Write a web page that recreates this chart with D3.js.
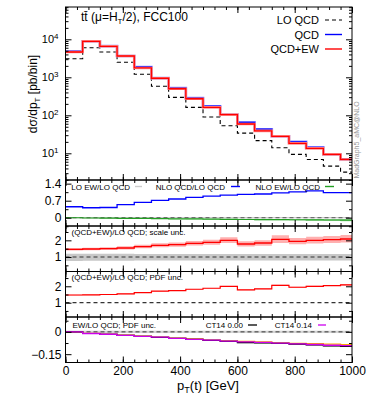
<!DOCTYPE html>
<html><head><meta charset="utf-8">
<script src="https://cdn.jsdelivr.net/npm/d3@7"></script>
<style>body{margin:0;background:#fff} text{font-family:"Liberation Sans",Arial,sans-serif}</style>
</head><body><svg id="c" width="374" height="408"></svg>
<script>
// ---- data ----
const binEdges = [0,60,120,180,240,300,360,420,480,540,600,660,720,780,840,900,960,1000];
const loQCD  = [3090,6000,4640,2480,1200,580,297,162,90,53,34,21.5,14,9.4,6.9,4.6,3.2];
const qcd    = [4800,8850,6600,3650,1870,950,524,285,173,104,65,43,28,20,14.4,9.4,6.9];
const qcdEW  = [4630,8850,6550,3640,1760,943,500,273,162,104,59,39,28,18.3,13.5,9.4,6.9];
const nloQCDratio = [0.45,0.41,0.42,0.535,0.63,0.715,0.77,0.84,0.89,0.93,0.96,0.975,1.02,1.06,1.10,1.03,1.03];
const loEWratio   = [0.005,0.006,0.005,0.006,0.005,0.006,0.005,0.005,0.006,0.005,0.005,0.006,0.005,0.005,0.006,0.005,0.005];
const nloEWratio  = [0,-0.011,-0.017,-0.023,-0.030,-0.037,-0.044,-0.051,-0.057,-0.064,-0.072,-0.074,-0.078,-0.083,-0.088,-0.094,-0.097];
const nloEWbandHalf = [0.004,0.006,0.008,0.01,0.012,0.014,0.016,0.018,0.02,0.022,0.025,0.028,0.03,0.033,0.036,0.04,0.044];
const fullRatio = [1.46,1.48,1.50,1.54,1.62,1.70,1.74,1.82,1.88,2.00,1.78,1.84,2.06,1.94,2.00,2.04,2.08];
const scaleUp   = [1.54,1.56,1.59,1.64,1.73,1.82,1.87,1.96,2.03,2.18,1.95,2.01,2.30,2.14,2.21,2.26,2.32];
const scaleDn   = [1.39,1.41,1.42,1.45,1.52,1.59,1.62,1.69,1.74,1.84,1.63,1.68,1.84,1.76,1.81,1.84,1.87];
const loScaleUp = [1.20,1.20,1.19,1.19,1.18,1.18,1.18,1.18,1.18,1.18,1.18,1.18,1.18,1.18,1.18,1.18,1.18];
const loScaleDn = [0.76,0.77,0.78,0.78,0.79,0.79,0.79,0.79,0.79,0.79,0.79,0.79,0.79,0.79,0.79,0.79,0.79];
const pdfUp = [1.48,1.50,1.52,1.56,1.64,1.72,1.76,1.84,1.90,2.02,1.80,1.86,2.09,1.97,2.03,2.07,2.12];
const pdfDn = [1.44,1.46,1.48,1.52,1.60,1.68,1.72,1.80,1.86,1.98,1.76,1.82,2.03,1.91,1.97,2.01,2.05];
const pdfRatio = [1.47,1.48,1.50,1.54,1.62,1.70,1.74,1.82,1.88,1.99,1.78,1.84,2.06,1.94,2.00,2.04,2.09];
const ewCT14_000 = [0,-0.011,-0.017,-0.023,-0.030,-0.037,-0.044,-0.051,-0.057,-0.064,-0.072,-0.074,-0.078,-0.083,-0.088,-0.094,-0.097];
const ewCT14_014 = [0,-0.011,-0.016,-0.023,-0.030,-0.036,-0.044,-0.050,-0.056,-0.062,-0.067,-0.070,-0.076,-0.081,-0.085,-0.090,-0.092];
const ewOrange   = [0,-0.010,-0.016,-0.022,-0.029,-0.035,-0.042,-0.048,-0.055,-0.060,-0.064,-0.068,-0.074,-0.078,-0.080,-0.083,-0.086];
const xMajor = [0,200,400,600,800,1000];
const xMinor = d3.range(0,1001,40);
const p2Ticks = [0,0.7,1.4], p2Labels = ["0","0.7","1.4"], p2Minor = [-0.35,0.35,1.05];
const p3Ticks = [1,2], p3Labels = ["1","2"], p3Minor = [0.5,1.5,2.5];
const p5Ticks = [-0.15,0], p5Labels = ["\u22120.15","0"], p5Minor = [-0.075,0.075];
const logMajor = [10,100,1000,10000];

// ---- layout ----
const svg = d3.select("#c");
const L = 65.5, R = 352;
const x = d3.scaleLinear().domain([0,1000]).range([L,R]);
const P = {
  top:{t:7,b:180}, p2:{t:180,b:226}, p3:{t:226,b:271.5}, p4:{t:271.5,b:317}, p5:{t:317,b:362.5}
};
const yTop = d3.scaleLog().domain([1.984,70800]).range([P.top.b,P.top.t]);
const y2 = d3.scaleLinear().domain([-0.34,1.55]).range([P.p2.b,P.p2.t]);
const y3 = d3.scaleLinear().domain([0.13,2.86]).range([P.p3.b,P.p3.t]);
const y4 = d3.scaleLinear().domain([0.13,2.9]).range([P.p4.b,P.p4.t]);
const y5 = d3.scaleLinear().domain([-0.206,0.1]).range([P.p5.b,P.p5.t]);

function pts(vals){ const p = vals.map((v,i)=>[binEdges[i],v]); p.push([binEdges[binEdges.length-1],vals[vals.length-1]]); return p; }
function bpts(lo,hi){ const p = lo.map((v,i)=>[binEdges[i],v,hi[i]]); p.push([binEdges[binEdges.length-1],lo[lo.length-1],hi[hi.length-1]]); return p; }
const lineG = y => d3.line().x(d=>x(d[0])).y(d=>y(d[1])).curve(d3.curveStepAfter);
const areaG = y => d3.area().x(d=>x(d[0])).y0(d=>y(d[1])).y1(d=>y(d[2])).curve(d3.curveStepAfter);

const defs = svg.append("defs");
Object.entries(P).forEach(([k,p])=>{
  defs.append("clipPath").attr("id","clip-"+k).append("rect").attr("x",L).attr("y",p.t).attr("width",R-L).attr("height",p.b-p.t);
});
function panelG(k){ return svg.append("g").attr("clip-path","url(#clip-"+k+")"); }

function ticks(scale, orient, pos, vals, size){
  let ax;
  if(orient==="left") ax=d3.axisLeft(scale); else if(orient==="right") ax=d3.axisRight(scale);
  else if(orient==="top") ax=d3.axisTop(scale); else ax=d3.axisBottom(scale);
  ax.tickValues(vals).tickSize(-size).tickFormat("");
  const g = svg.append("g").attr("transform", (orient==="left"||orient==="right") ? `translate(${pos},0)` : `translate(0,${pos})`).call(ax);
  g.select(".domain").remove();
  g.selectAll("line").attr("stroke","#000").attr("stroke-width",1);
  return g;
}
function yLabels(scale, vals, labels){
  const ax = d3.axisLeft(scale).tickValues(vals).tickSize(0).tickPadding(4).tickFormat((d,i)=>labels[i]);
  const g = svg.append("g").attr("transform",`translate(${L},0)`).call(ax);
  g.select(".domain").remove();
  g.selectAll("text").attr("font-size",12).attr("fill","#000").attr("font-family","Liberation Sans, Arial, sans-serif");
  return g;
}
function frameTicks(k, yScale, yMaj, yMin){
  const p = P[k];
  const xs = d3.scaleLinear().domain([0,1000]).range([L,R]);
  ticks(xs,"bottom",p.b,xMajor,6); ticks(xs,"bottom",p.b,xMinor,3);
  ticks(xs,"top",p.t,xMajor,6); ticks(xs,"top",p.t,xMinor,3);
  ticks(yScale,"left",L,yMaj,6); ticks(yScale,"left",L,yMin,3);
  ticks(yScale,"right",R,yMaj,6); ticks(yScale,"right",R,yMin,3);
}

// ---- top panel ----
{
  const g = panelG("top");
  g.append("path").attr("d",lineG(yTop)(pts(loQCD))).attr("fill","none").attr("stroke","#000").attr("stroke-width",1.1).attr("stroke-dasharray","4,3");
  g.append("path").attr("d",lineG(yTop)(pts(qcd))).attr("fill","none").attr("stroke","#9090ff").attr("stroke-width",2.6);
  g.append("path").attr("d",lineG(yTop)(pts(qcd))).attr("fill","none").attr("stroke","#0000ff").attr("stroke-width",1.3);
  g.append("path").attr("d",lineG(yTop)(pts(qcdEW))).attr("fill","none").attr("stroke","#ff9090").attr("stroke-width",2.6);
  g.append("path").attr("d",lineG(yTop)(pts(qcdEW))).attr("fill","none").attr("stroke","#ff0000").attr("stroke-width",1.3);
  const logMinor = [];
  [1,10,100,1000,10000].forEach(d=>{ for(let m=2;m<=9;m++){ const v=d*m; if(v>=1.984&&v<=70800) logMinor.push(v);} });
  frameTicks("top", yTop, logMajor, logMinor);
  const ax = d3.axisLeft(yTop).tickValues(logMajor).tickSize(0).tickPadding(7);
  const lg = svg.append("g").attr("transform",`translate(${L},0)`).call(ax);
  lg.select(".domain").remove();
  lg.selectAll("text").each(function(d){
    const t = d3.select(this).text(null).attr("font-size",11).attr("fill","#000");
    t.append("tspan").text("10");
    t.append("tspan").attr("font-size",8).attr("dy","-0.55em").text(Math.round(Math.log10(d)));
  });
  // title
  const tt = svg.append("text").attr("x",81).attr("y",21).attr("font-size",12);
  tt.append("tspan").text("tt\u0304 (\u03bc=H");
  tt.append("tspan").attr("font-size",8).attr("dy",3).text("T");
  tt.append("tspan").attr("dy",-3).text("/2), FCC100");
  // legend
  const leg = [["LO QCD","#000","4,3"],["QCD","#0000ff",null],["QCD+EW","#ff0000",null]];
  leg.forEach((e,i)=>{
    const yy = 20 + i*14.5;
    svg.append("text").attr("x",319).attr("y",yy+4).attr("text-anchor","end").attr("font-size",11).text(e[0]);
    const l = svg.append("line").attr("x1",325).attr("x2",342).attr("y1",yy).attr("y2",yy).attr("stroke",e[1]).attr("stroke-width",e[2]?1.1:1.4);
    if(e[2]) l.attr("stroke-dasharray",e[2]);
  });
  // MadGraph
  svg.append("text").attr("transform","translate(359,140) rotate(-90)").attr("text-anchor","middle")
    .attr("font-family","DejaVu Sans Mono, monospace").attr("font-size",7).attr("fill","#999").text("MadGraph5_aMC@NLO");
  // y label
  const yl = svg.append("text").attr("transform","translate(37,94) rotate(-90)").attr("text-anchor","middle").attr("font-size",12);
  yl.append("tspan").text("d\u03c3/dp");
  yl.append("tspan").attr("font-size",8).attr("dy",3).text("T");
  yl.append("tspan").attr("dy",-3).text(" [pb/bin]");
}

// ---- panel 2 ----
{
  const g = panelG("p2");
  g.append("path").attr("d",areaG(y2)(bpts(nloEWratio.map((v,i)=>v-nloEWbandHalf[i]), nloEWratio.map((v,i)=>v+nloEWbandHalf[i])))).attr("fill","#a9dba9");
  g.append("path").attr("d",lineG(y2)(pts(loEWratio))).attr("fill","none").attr("stroke","#cccccc").attr("stroke-width",1.4);
  g.append("line").attr("x1",L).attr("x2",R).attr("y1",y2(0)).attr("y2",y2(0)).attr("stroke","#555").attr("stroke-dasharray","4,3");
  g.append("path").attr("d",lineG(y2)(pts(nloEWratio))).attr("fill","none").attr("stroke","#22a022").attr("stroke-width",1.2);
  g.append("path").attr("d",lineG(y2)(pts(nloQCDratio))).attr("fill","none").attr("stroke","#0000ff").attr("stroke-width",1.3);
  frameTicks("p2", y2, p2Ticks, p2Minor);
  yLabels(y2, p2Ticks, p2Labels);
  const leg = [["LO EW/LO QCD","#cccccc",130,135,142],["NLO QCD/LO QCD","#0000ff",225,231,240],["NLO EW/LO QCD","#22a022",320,325,334]];
  leg.forEach(e=>{
    svg.append("text").attr("x",e[2]).attr("y",189.5).attr("text-anchor","end").attr("font-size",8).text(e[0]);
    svg.append("line").attr("x1",e[3]).attr("x2",e[4]).attr("y1",186.5).attr("y2",186.5).attr("stroke",e[1]).attr("stroke-width",1.4);
  });
}

// ---- panel 3 ----
{
  const g = panelG("p3");
  g.append("path").attr("d",areaG(y3)(bpts(loScaleDn,loScaleUp))).attr("fill","#c8c8c8");
  g.append("line").attr("x1",L).attr("x2",R).attr("y1",y3(1)).attr("y2",y3(1)).attr("stroke","#333").attr("stroke-dasharray","4,3");
  g.append("path").attr("d",areaG(y3)(bpts(scaleDn,scaleUp))).attr("fill","#ffb0b0");
  g.append("path").attr("d",lineG(y3)(pts(fullRatio))).attr("fill","none").attr("stroke","#ff0000").attr("stroke-width",1.3);
  frameTicks("p3", y3, p3Ticks, p3Minor);
  yLabels(y3, p3Ticks, p3Labels);
  svg.append("text").attr("x",71.5).attr("y",235).attr("font-size",8).text("(QCD+EW)/LO QCD; scale unc.");
}

// ---- panel 4 ----
{
  const g = panelG("p4");
  g.append("line").attr("x1",L).attr("x2",R).attr("y1",y4(1)).attr("y2",y4(1)).attr("stroke","#000").attr("stroke-dasharray","4,3");
  g.append("path").attr("d",areaG(y4)(bpts(pdfDn,pdfUp))).attr("fill","#ffa0a0");
  g.append("path").attr("d",lineG(y4)(pts(pdfRatio))).attr("fill","none").attr("stroke","#ff0000").attr("stroke-width",1.2);
  frameTicks("p4", y4, p3Ticks, p3Minor);
  yLabels(y4, p3Ticks, p3Labels);
  svg.append("text").attr("x",71.5).attr("y",280).attr("font-size",8).text("(QCD+EW)/LO QCD; PDF unc.");
}

// ---- panel 5 ----
{
  const g = panelG("p5");
  g.append("rect").attr("x",L).attr("width",R-L).attr("y",y5(0.008)).attr("height",y5(-0.008)-y5(0.008)).attr("fill","#d4d4d4");
  g.append("line").attr("x1",L).attr("x2",R).attr("y1",y5(0)).attr("y2",y5(0)).attr("stroke","#333").attr("stroke-dasharray","4,3");
  g.append("path").attr("d",areaG(y5)(bpts(ewCT14_000.map(v=>v-0.004),ewCT14_000.map(v=>v+0.004)))).attr("fill","#bbbbbb");
  g.append("path").attr("d",lineG(y5)(pts(ewOrange))).attr("fill","none").attr("stroke","#ffa500").attr("stroke-width",1.3);
  g.append("path").attr("d",lineG(y5)(pts(ewCT14_000))).attr("fill","none").attr("stroke","#000").attr("stroke-width",1.2);
  g.append("path").attr("d",lineG(y5)(pts(ewCT14_014))).attr("fill","none").attr("stroke","#cc00ee").attr("stroke-width",1.3);
  frameTicks("p5", y5, p5Ticks, p5Minor);
  yLabels(y5, p5Ticks, p5Labels);
  svg.append("text").attr("x",72.5).attr("y",328).attr("font-size",8).text("EW/LO QCD; PDF unc.");
  svg.append("text").attr("x",243).attr("y",328).attr("text-anchor","end").attr("font-size",8).text("CT14 0.00");
  svg.append("line").attr("x1",248).attr("x2",257).attr("y1",325).attr("y2",325).attr("stroke","#000").attr("stroke-width",1.3);
  svg.append("text").attr("x",312).attr("y",328).attr("text-anchor","end").attr("font-size",8).text("CT14 0.14");
  svg.append("line").attr("x1",318).attr("x2",326).attr("y1",325).attr("y2",325).attr("stroke","#cc00ee").attr("stroke-width",1.3);
  // x axis labels
  const ax = d3.axisBottom(x).tickValues(xMajor).tickSize(0).tickPadding(4).tickFormat(d=>String(d));
  const xg = svg.append("g").attr("transform",`translate(0,${P.p5.b})`).call(ax);
  xg.select(".domain").remove();
  xg.selectAll("text").attr("font-size",12).attr("fill","#000").attr("font-family","Liberation Sans, Arial, sans-serif");
  const xt = svg.append("text").attr("x",208).attr("y",390).attr("text-anchor","middle").attr("font-size",13);
  xt.append("tspan").text("p");
  xt.append("tspan").attr("font-size",9).attr("dy",3).text("T");
  xt.append("tspan").attr("dy",-3).text("(t) [GeV]");
}

// frames
Object.values(P).forEach(p=>{
  svg.append("rect").attr("x",L).attr("y",p.t).attr("width",R-L).attr("height",p.b-p.t).attr("fill","none").attr("stroke","#000").attr("stroke-width",1);
});
</script></body></html>
